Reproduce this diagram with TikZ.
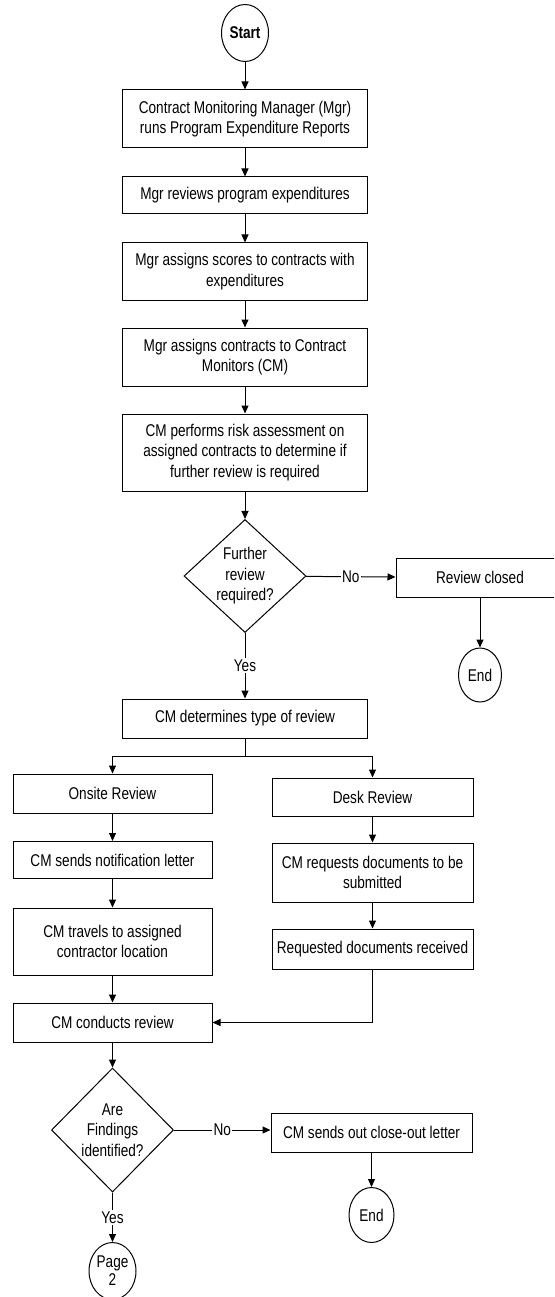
\documentclass[tikz,border=0pt]{standalone}
\usepackage{fontspec}
\setmainfont{Liberation Sans}[FakeStretch=0.8]
\usetikzlibrary{shapes.geometric,arrows.meta}

\begin{document}
\begin{tikzpicture}[x=1pt,y=-1pt, line width=1pt,
  txt/.style={font=\fontsize{17}{20.5}\selectfont},
  proc/.style={txt, draw, rectangle, align=center, inner sep=0pt},
  term/.style={txt, draw, ellipse, align=center, inner sep=0pt,
               minimum width=47pt, minimum height=57pt},
  decision/.style={txt, draw, diamond, align=center, inner sep=0pt},
  flow/.style={-{Triangle[length=8pt,width=7pt]}},
  lbl/.style={txt, fill=white, inner sep=1.5pt}]
\useasboundingbox (0,0) rectangle (554,1297);
\clip (0,0) rectangle (554,1297);

% main column
\node[term, font=\fontsize{17}{20.5}\selectfont\bfseries] (start) at (245,33) {Start};
\node[proc, minimum width=245pt, minimum height=58pt] (b1) at (245,119)
  {Contract Monitoring Manager (Mgr)\\runs Program Expenditure Reports};
\node[proc, minimum width=245pt, minimum height=37pt] (b2) at (245,195.5)
  {Mgr reviews program expenditures};
\node[proc, minimum width=245pt, minimum height=57pt] (b3) at (245,271.5)
  {Mgr assigns scores to contracts with\\expenditures};
\node[proc, minimum width=245pt, minimum height=58pt] (b4) at (245,357)
  {Mgr assigns contracts to Contract\\Monitors (CM)};
\node[proc, minimum width=245pt, minimum height=77pt] (b5) at (245,452.5)
  {CM performs risk assessment on\\assigned contracts to determine if\\further review is required};
\node[decision, aspect=1.08, minimum width=122pt, minimum height=113pt] (d1) at (245,576)
  {Further\\review\\required?};
\node[proc, minimum width=168pt, minimum height=39pt] (rc) at (480,577.5) {Review closed};
\node[term, minimum width=43pt, minimum height=54pt] (end1) at (480,675) {End};
\node[proc, minimum width=245pt, minimum height=39pt] (cmdt) at (245,718.5)
  {CM determines type of review};

% onsite branch
\node[proc, minimum width=199pt, minimum height=39pt] (onsite) at (112.5,793.5) {Onsite Review};
\node[proc, minimum width=199pt, minimum height=37pt] (notif) at (112.5,860)
  {CM sends notification letter};
\node[proc, minimum width=199pt, minimum height=67pt] (travel) at (112.5,941.5)
  {CM travels to assigned\\contractor location};
\node[proc, minimum width=199pt, minimum height=39pt] (conduct) at (112.5,1022.5)
  {CM conducts review};

% desk branch
\node[proc, minimum width=201pt, minimum height=38pt] (desk) at (372.5,797) {Desk Review};
\node[proc, minimum width=201pt, minimum height=59pt] (req) at (372.5,872.5)
  {CM requests documents to be\\submitted};
\node[proc, minimum width=201pt, minimum height=40pt] (recv) at (372.5,949)
  {Requested documents received};

% findings
\node[decision, minimum width=122pt, minimum height=124pt] (d2) at (112.5,1130)
  {Are\\Findings\\identified?};
\node[proc, minimum width=201pt, minimum height=39pt] (close) at (371.5,1132.5)
  {CM sends out close-out letter};
\node[term, minimum width=45pt, minimum height=55pt] (end2) at (371.5,1215) {End};
\node[term, font=\fontsize{17}{18}\selectfont] (page2) at (112.5,1271) {Page\\2};

% connectors
\draw[flow] (start) -- (b1);
\draw[flow] (b1) -- (b2);
\draw[flow] (b2) -- (b3);
\draw[flow] (b3) -- (b4);
\draw[flow] (b4) -- (b5);
\draw[flow] (b5) -- (d1);
\draw[flow] (d1) -- node[lbl] {No} (rc);
\draw[flow] (rc) -- (end1);
\draw[flow] (d1) -- node[lbl] {Yes} (cmdt);
\coordinate (split) at (245,756);
\draw (cmdt) -- (split);
\draw[flow] (split) -| (onsite);
\draw[flow] (split) -| (desk);
\draw[flow] (onsite) -- (notif);
\draw[flow] (notif) -- (travel);
\draw[flow] (travel) -- (conduct);
\draw[flow] (desk) -- (req);
\draw[flow] (req) -- (recv);
\draw[flow] (recv) |- (conduct);
\draw[flow] (conduct) -- (d2);
\draw[flow] (d2.east) -- node[lbl] {No} (d2.east -| close.west);
\draw[flow] (close) -- (end2);
\draw[flow] (d2) -- node[lbl] {Yes} (page2);
\end{tikzpicture}
\end{document}
